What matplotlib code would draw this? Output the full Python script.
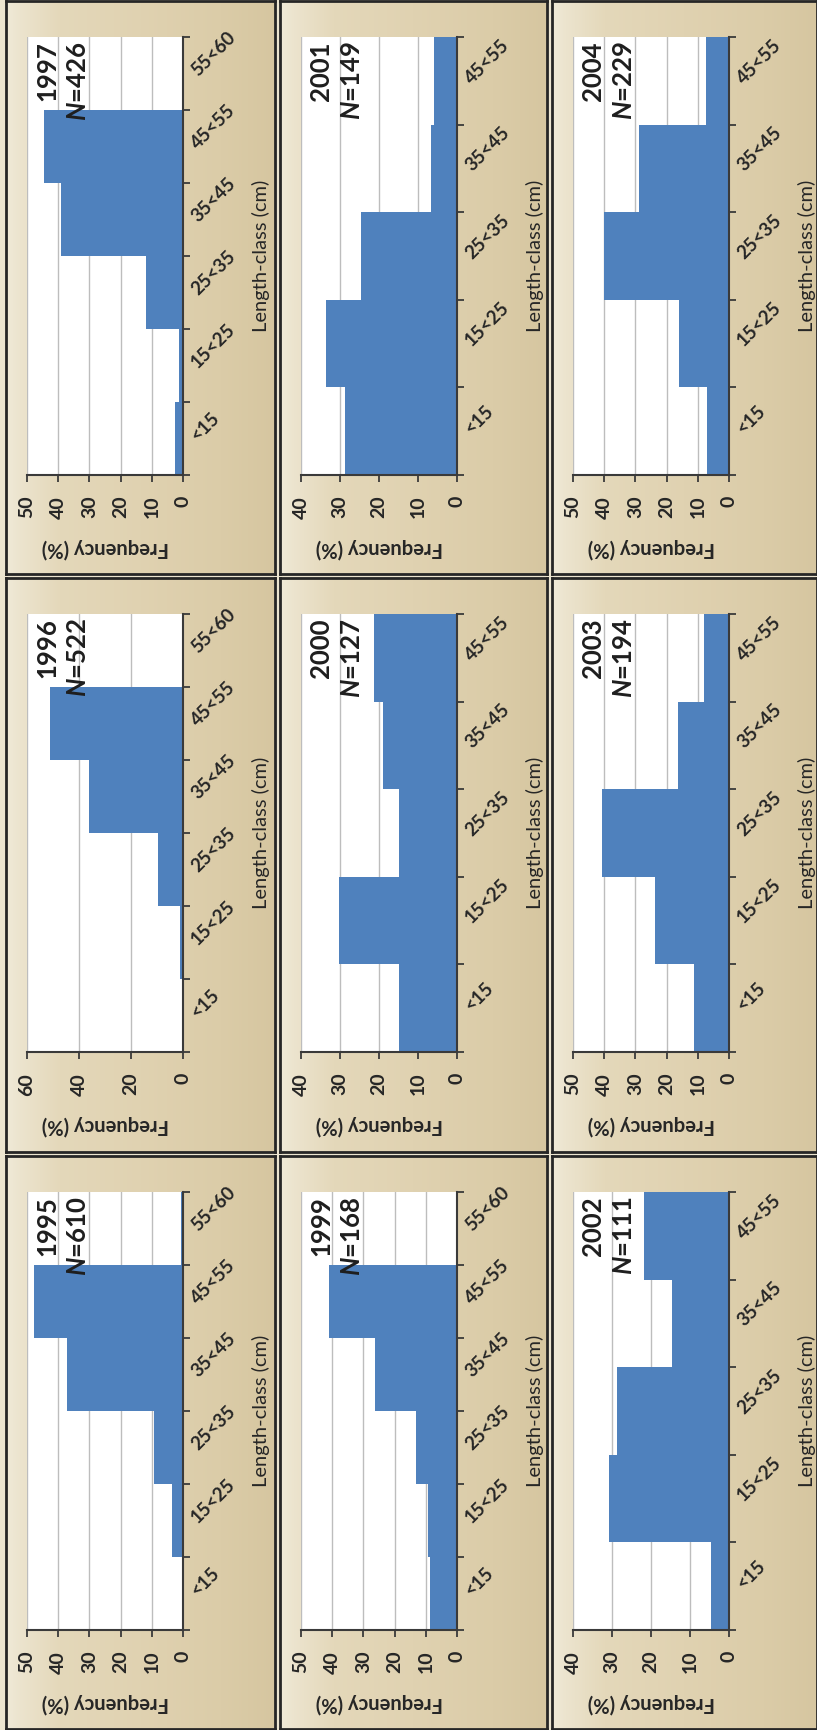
import numpy as np
import matplotlib
matplotlib.use("Agg")
import matplotlib.pyplot as plt
from matplotlib.ticker import FixedLocator, NullFormatter

plt.rcParams['font.family'] = ['Lato', 'DejaVu Sans']
plt.rcParams['mathtext.fontset'] = 'custom'
plt.rcParams['mathtext.it'] = 'Lato:italic:bold'
plt.rcParams['mathtext.rm'] = 'Lato:bold'

# Length classes (cm)
classes_6 = ["<15", "15<25", "25<35", "35<45", "45<55", "55<60"]
classes_5 = classes_6[:5]

# Length-frequency distributions (%) per sampling year
freq_1995 = [0.0, 3.5, 9.4, 37.3, 47.7, 0.6]
freq_1996 = [0.2, 1.0, 9.7, 36.1, 51.0, 0.0]
freq_1997 = [2.5, 1.4, 11.8, 39.0, 44.5, 0.0]
freq_1999 = [8.7, 9.2, 13.2, 26.2, 41.0, 0.0]
freq_2000 = [14.9, 30.2, 14.9, 18.9, 21.4]
freq_2001 = [28.8, 33.6, 24.6, 6.7, 5.8]
freq_2002 = [4.7, 30.8, 28.8, 14.6, 21.8]
freq_2003 = [11.3, 23.8, 40.6, 16.4, 7.9]
freq_2004 = [7.2, 15.9, 40.0, 28.9, 7.4]

freqs = {1995: freq_1995, 1996: freq_1996, 1997: freq_1997,
         1999: freq_1999, 2000: freq_2000, 2001: freq_2001,
         2002: freq_2002, 2003: freq_2003, 2004: freq_2004}
sample_n = {1995: 610, 1996: 522, 1997: 426, 1999: 168, 2000: 127,
            2001: 149, 2002: 111, 2003: 194, 2004: 229}
axis_max = {1995: 50, 1996: 60, 1997: 50, 1999: 50, 2000: 40,
            2001: 40, 2002: 40, 2003: 50, 2004: 50}
axis_step = {1995: 10, 1996: 20, 1997: 10, 1999: 10, 2000: 10,
             2001: 10, 2002: 10, 2003: 10, 2004: 10}

# page layout (rows top to bottom, columns left to right)
panel_grid = [[1997, 2001, 2004],
              [1996, 2000, 2003],
              [1995, 1999, 2002]]

W, H, DPI = 817, 1730, 100
fig = plt.figure(figsize=(W / DPI, H / DPI), dpi=DPI, facecolor='#ECE5D0')

col_x = [6, 280, 552]
col_w = [269, 267, 265]
row_y = [1, 578, 1156]
row_h = [573, 574, 573]

BLUE = '#4F81BD'
AXC = '#3A3A3A'
TXT = '#262626'

# parchment-like gradient for each chart area
t = np.linspace(0, 1, 300)
stops_t = [0.0, 0.05, 0.2, 0.5, 0.8, 1.0]
stops_c = np.array([[240, 234, 216], [236, 228, 206], [228, 216, 186],
                    [224, 210, 177], [219, 204, 168], [214, 198, 160]]) / 255.0
grad = np.stack([np.interp(t, stops_t, stops_c[:, k]) for k in range(3)], axis=-1)
grad = np.tile(grad[None, :, :], (20, 1, 1))


def fx(px):
    return px / W


def fy(py, h):
    return 1 - (py + h) / H


for r, row in enumerate(panel_grid):
    for c, year in enumerate(row):
        px, py, pw, ph = col_x[c], row_y[r], col_w[c], row_h[r]

        bg = fig.add_axes([fx(px), fy(py, ph), pw / W, ph / H], zorder=0)
        bg.imshow(grad, aspect='auto', extent=[0, 1, 0, 1], interpolation='bilinear')
        bg.set_xticks([])
        bg.set_yticks([])
        for s in bg.spines.values():
            s.set_color('#262626')
            s.set_linewidth(2.0)

        ax_l, ax_t, ax_w, ax_h = px + 21, py + 36, 156, 438
        ax = fig.add_axes([fx(ax_l), fy(ax_t, ax_h), ax_w / W, ax_h / H], zorder=1)
        ax.set_facecolor('white')

        vals = freqs[year]
        cats = classes_6 if len(vals) == 6 else classes_5
        n = len(cats)
        pos = np.arange(n)
        ax.barh(pos, vals, height=1.0, left=0, color=BLUE, edgecolor='none',
                zorder=2)

        vmax = axis_max[year]
        ax.set_xlim(vmax, 0)
        ax.set_ylim(-0.5, n - 0.5)

        xt = np.arange(0, vmax + 0.1, axis_step[year])
        ax.set_xticks(xt)
        ax.set_xticklabels([f"{v:.0f}" for v in xt])
        ax.grid(axis='x', color='#BDBDBD', linewidth=1.0, zorder=1)
        ax.set_axisbelow(True)

        ax.yaxis.set_major_locator(FixedLocator(np.arange(n + 1) - 0.5))
        ax.yaxis.set_major_formatter(NullFormatter())
        ax.set_yticks(pos, labels=cats, minor=True)

        ax.tick_params(axis='y', which='major', left=False, right=True,
                       length=5, width=1.3, color=AXC, direction='out')
        ax.tick_params(axis='y', which='minor', left=False, right=True,
                       length=0, labelleft=False, labelright=True, pad=8,
                       labelsize=13.5)
        for lab in ax.get_yticklabels(minor=True):
            lab.set_rotation(45)
            lab.set_rotation_mode('anchor')
            lab.set_ha('left')
            lab.set_va('center')
            lab.set_fontweight('bold')
            lab.set_color(TXT)

        ax.tick_params(axis='x', bottom=True, length=5, width=1.3, color=AXC,
                       direction='out', labelrotation=90, pad=10,
                       labelsize=14)
        for lab in ax.get_xticklabels():
            lab.set_fontweight('bold')
            lab.set_color(TXT)

        for side in ('top', 'left'):
            ax.spines[side].set_visible(False)
        for side in ('right', 'bottom'):
            ax.spines[side].set_color(AXC)
            ax.spines[side].set_linewidth(1.5)
        ax.spines['right'].set_zorder(3)

        ax.set_xlabel('Frequency (%)', rotation=180, fontsize=14.5,
                      fontweight='bold', color=TXT)
        ax.xaxis.label.set_va('center')
        ax.xaxis.set_label_coords(0.5, -0.167)

        ax.yaxis.set_label_position('right')
        ax.set_ylabel('Length-class (cm)', rotation=90, fontsize=14.5,
                      color=TXT)
        ax.yaxis.label.set_va('center')
        ax.yaxis.label.set_ha('center')
        ax.yaxis.set_label_coords(1.50, 0.5)

        ax.text(0.13, 0.99, f"{year}", transform=ax.transAxes, rotation=90,
                ha='center', va='top', fontsize=18.5, fontweight='bold',
                color='#1E1E1E', zorder=4)
        ax.text(0.33, 0.99, f"$N$={sample_n[year]}", transform=ax.transAxes,
                rotation=90, ha='center', va='top', fontsize=18.5,
                fontweight='bold', color='#1E1E1E', zorder=4)

fig.savefig('out.png', dpi=DPI, facecolor=fig.get_facecolor())
